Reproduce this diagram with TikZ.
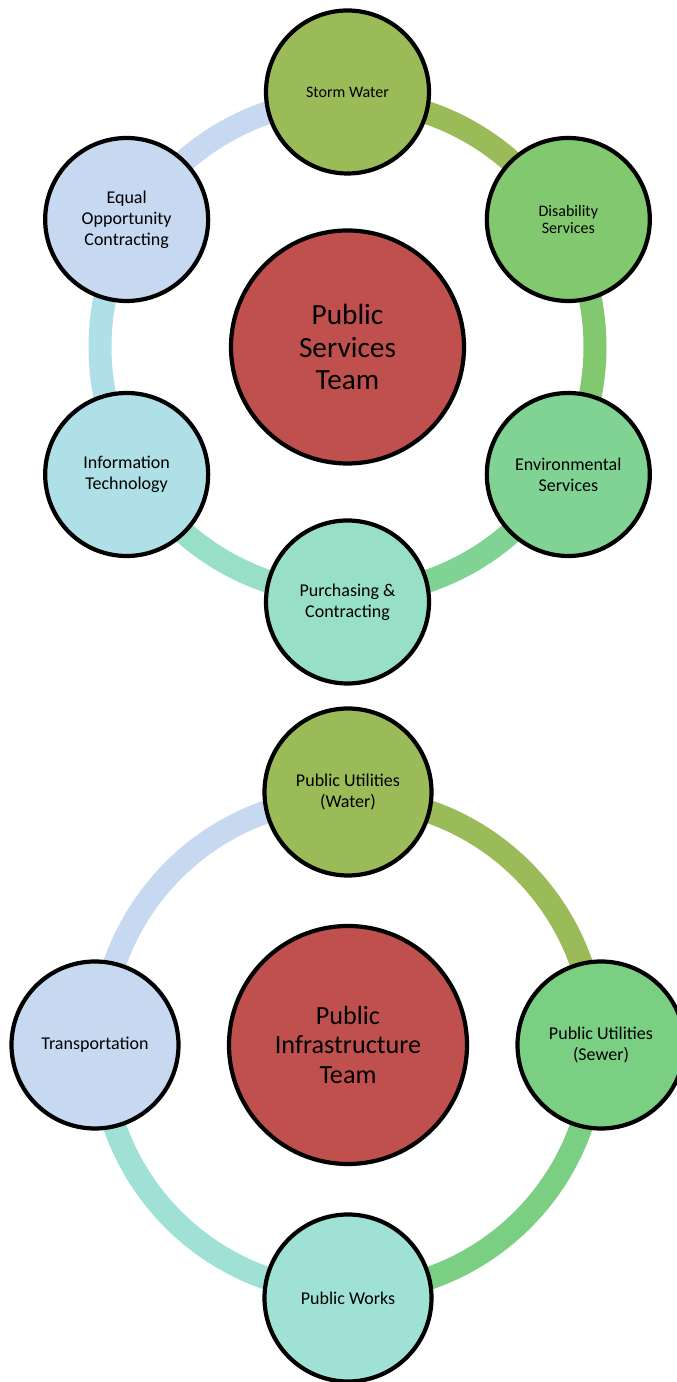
\documentclass[tikz,border=0pt]{standalone}
\usepackage{fontspec}
\setmainfont{Carlito}
\usetikzlibrary{calc}
\definecolor{cRed}{HTML}{C0504D}
\definecolor{cOlive}{HTML}{9BBB59}
\definecolor{cGreenA}{HTML}{82C86E}
\definecolor{cGreenB}{HTML}{80D393}
\definecolor{cTealA}{HTML}{97DFC6}
\definecolor{cCyan}{HTML}{B0E0E7}
\definecolor{cBlue}{HTML}{C6D9F0}
\definecolor{cGreenC}{HTML}{7BCF82}
\definecolor{cTealB}{HTML}{A0E1D6}
\begin{document}
\begin{tikzpicture}[x=1pt,y=1pt,
  sat/.style={circle, draw=black, line width=4.2pt, minimum size=163pt, inner sep=0pt, align=center, text=black, font=\fontsize{18}{21}\selectfont},
  satB/.style={sat, minimum size=167pt},
  smalltext/.style={font=\fontsize{16}{17}\selectfont},
  hub/.style={circle, draw=black, line width=4.2pt, fill=cRed, inner sep=0pt, align=center, text=black},
  ringseg/.style={line width=23pt, line cap=butt}]
\useasboundingbox (0,0) rectangle (677,1382);

% ---------- top diagram ----------
\coordinate (ct) at (347.5,1035);
\draw[ringseg, cOlive]  (ct) ++(90:247.5pt)  arc[start angle=90,  end angle=30,  radius=247.5pt];
\draw[ringseg, cGreenA] (ct) ++(30:247.5pt)  arc[start angle=30,  end angle=-30, radius=247.5pt];
\draw[ringseg, cGreenB] (ct) ++(-30:247.5pt) arc[start angle=-30, end angle=-90, radius=247.5pt];
\draw[ringseg, cTealA]  (ct) ++(-90:247.5pt) arc[start angle=-90, end angle=-150,radius=247.5pt];
\draw[ringseg, cCyan]   (ct) ++(210:247.5pt) arc[start angle=210, end angle=150, radius=247.5pt];
\draw[ringseg, cBlue]   (ct) ++(150:247.5pt) arc[start angle=150, end angle=90,  radius=247.5pt];

\node[hub, minimum size=233pt, font=\fontsize{29.3}{32.5}\selectfont] (pst) at (ct) {Public\\Services\\Team};
\node[sat, smalltext, fill=cOlive]  (storm) at ($(ct)+(90:255pt)$)  {Storm Water};
\node[sat, smalltext, fill=cGreenA] (dis)   at ($(ct)+(30:255pt)$)  {Disability\\Services};
\node[sat, fill=cGreenB] (env)   at ($(ct)+(-30:255pt)$) {Environmental\\Services};
\node[sat, fill=cTealA]  (pur)   at ($(ct)+(-90:255pt)$) {Purchasing \&\\Contracting};
\node[sat, fill=cCyan]   (info)  at ($(ct)+(210:255pt)$) {Information\\Technology};
\node[sat, fill=cBlue]   (eoc)   at ($(ct)+(150:255pt)$) {Equal\\Opportunity\\Contracting};

% ---------- bottom diagram ----------
\coordinate (cb) at (348,337);
\draw[ringseg, cOlive]  (cb) ++(90:247pt)  arc[start angle=90,  end angle=0,   radius=247pt];
\draw[ringseg, cGreenC] (cb) ++(0:247pt)   arc[start angle=0,   end angle=-90, radius=247pt];
\draw[ringseg, cTealB]  (cb) ++(-90:247pt) arc[start angle=-90, end angle=-180,radius=247pt];
\draw[ringseg, cBlue]   (cb) ++(180:247pt) arc[start angle=180, end angle=90,  radius=247pt];

\node[hub, minimum size=238pt, font=\fontsize{26.2}{29.5}\selectfont] (pit) at (cb) {Public\\Infrastructure\\Team};
\node[satB, fill=cOlive]  (water) at ($(cb)+(90:253pt)$)  {Public Utilities\\(Water)};
\node[satB, fill=cGreenC] (sewer) at ($(cb)+(0:253pt)$)   {Public Utilities\\(Sewer)};
\node[satB, fill=cTealB]  (works) at ($(cb)+(-90:253pt)$) {Public Works};
\node[satB, fill=cBlue]   (trans) at ($(cb)+(180:253pt)$) {Transportation};
\end{tikzpicture}
\end{document}
